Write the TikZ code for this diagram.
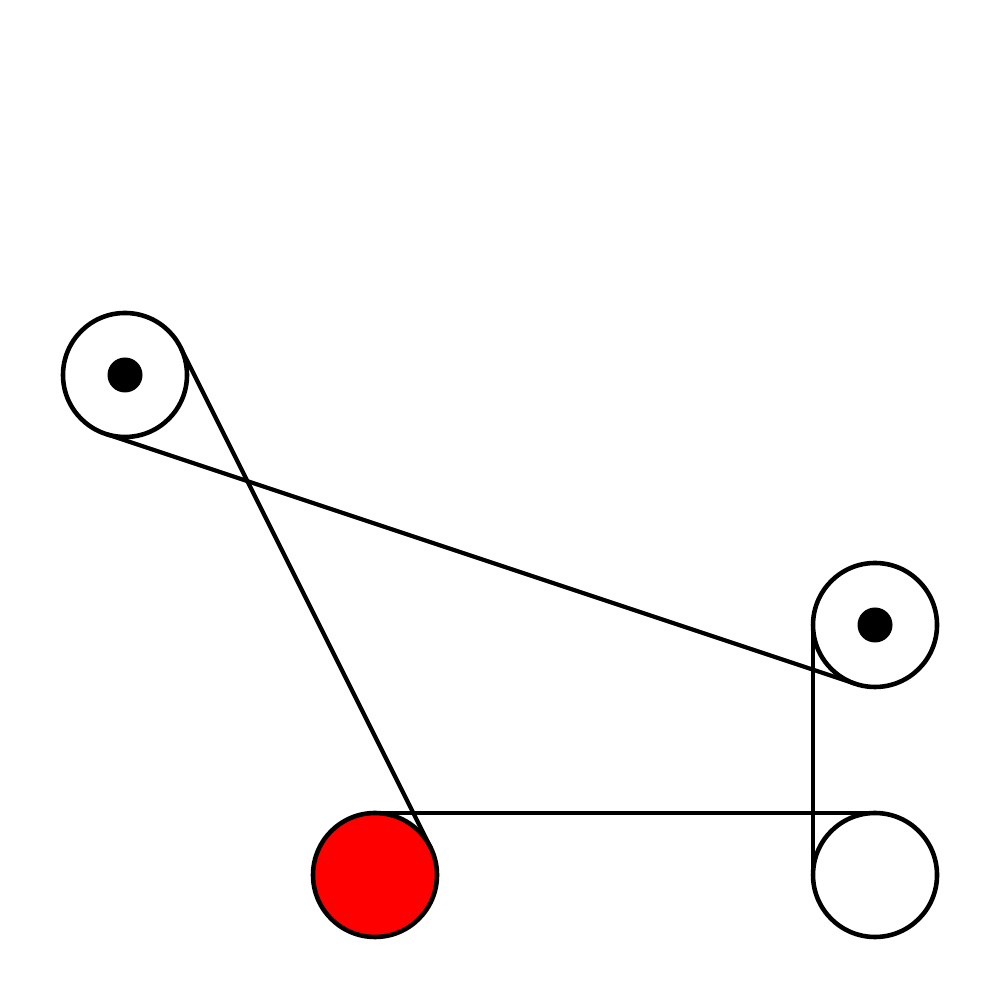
\documentclass[tikz,border=0pt]{standalone}
\usepackage{tikz}
\usetikzlibrary{calc}

\begin{document}
\begin{tikzpicture}[
    pulley/.style={circle, draw=black, line width=1.3pt, fill=white, minimum size=1.24cm, inner sep=0pt, outer sep=0pt},
    drive/.style={pulley, fill=red},
    axle/.style={circle, fill=black, minimum size=0.35cm, inner sep=0pt},
    belt/.style={line width=1.2pt, black}
]
\useasboundingbox (0,0) rectangle (10,10);

% Pulleys
\node[pulley] (left) at (1.25,6.25) {};
\node[pulley] (right) at (8.75,3.75) {};
\node[drive] (motor) at (3.75,1.25) {};
\node[pulley] (idler) at (8.75,1.25) {};

% Axles
\node[axle] (leftaxle) at (left.center) {};
\node[axle] (rightaxle) at (right.center) {};

% Belt
\draw[belt] (left.26.57) -- (motor.26.57);
\draw[belt] (left.-108.43) -- (right.-108.43);
\draw[belt] (right.west) -- (idler.west);
\draw[belt] (motor.north) -- (idler.north);

\end{tikzpicture}
\end{document}
